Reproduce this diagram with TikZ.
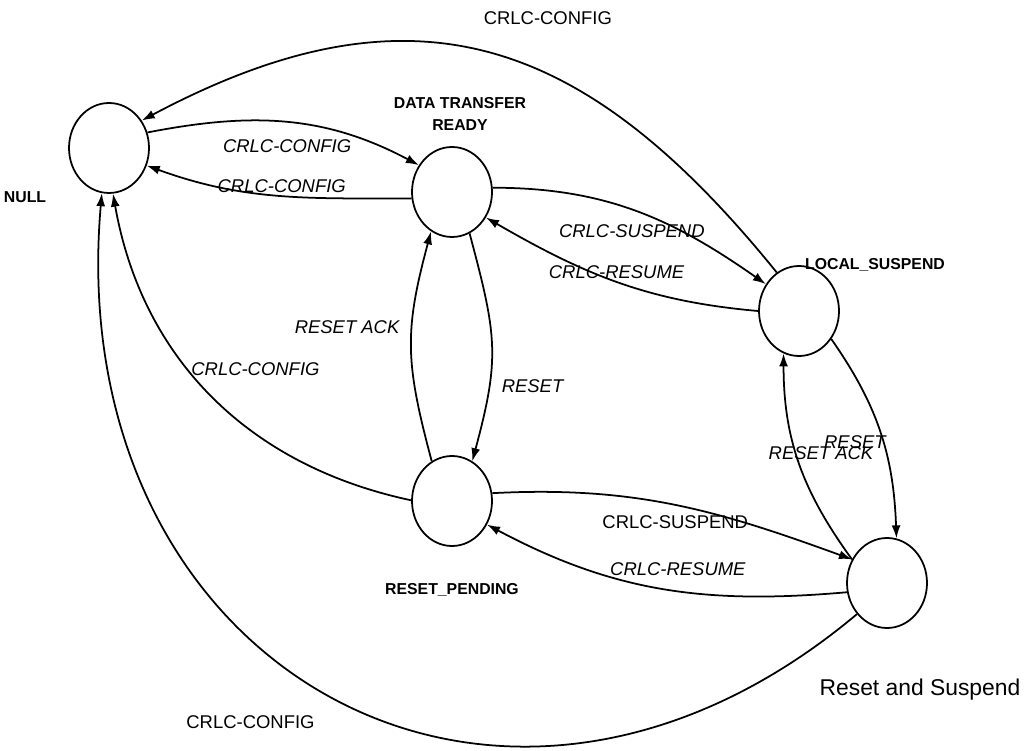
\documentclass[tikz,border=0pt]{standalone}
\usepackage{fontspec}
\setmainfont{Liberation Sans}
\usetikzlibrary{automata, positioning, shapes.geometric, arrows.meta}

\begin{document}
\begin{tikzpicture}[auto, on grid, >={Latex[length=2.6mm, width=1.8mm]},
    every state/.style={draw, ellipse, line width=1pt, minimum width=1.6cm, minimum height=1.8cm, inner sep=0pt},
    statename/.style={font=\bfseries\fontsize{9}{12}\selectfont, align=center},
    trans/.style={font=\itshape\fontsize{10.5}{12}\selectfont, inner sep=1pt},
    transup/.style={font=\fontsize{10.5}{12}\selectfont, inner sep=1pt}]

    \useasboundingbox (0,0) rectangle (20.58,-15.02);

    % estados
    \node [state] (null) at (2.18,-2.96) {};
    \node [state] (dtr) [below right=0.88cm and 6.86cm of null] {};
    \node [state] (ls) [below right=2.38cm and 6.94cm of dtr] {};
    \node [state] (rp) [below=6.18cm of dtr] {};
    \node [state] (ras) [below right=1.64cm and 8.7cm of rp] {};

    % nombres
    \node [statename] (nullname) [below left=0.98cm and 1.68cm of null] {NULL};
    \node [statename] (dtrname) [above right=1.56cm and 0.16cm of dtr] {DATA TRANSFER\\READY};
    \node [statename] (lsname) [above right=0.92cm and 1.52cm of ls] {LOCAL\_SUSPEND};
    \node [statename] (rpname) [below=1.78cm of rp] {RESET\_PENDING};
    \node [font=\fontsize{13}{15}\selectfont] (rasname) [below right=2.14cm and 0.66cm of ras] {Reset and Suspend};

    % transiciones
    \path[->, line width=1pt]
    (null.22) edge [out=11, in=152] node [trans, pos=0.5, below=3mm] {CRLC-CONFIG} (dtr.141)
    (dtr.189) edge [out=180, in=-20] node [trans, pos=0.48, above] {CRLC-CONFIG} (null.-25)
    (ls.120) edge [out=129, in=28, looseness=1.2] node [transup, pos=0.4, above=9.5mm] {CRLC-CONFIG} (null.40)
    (dtr.6) edge [out=0, in=145] node [trans, pos=0.48, below=2.5mm] {CRLC-SUSPEND} (ls.141)
    (ls.180) edge [out=175, in=-30] node [trans, pos=0.5, above] {CRLC-RESUME} (dtr.-37)
    (dtr.-67) edge [out=-75, in=75, looseness=1.2] node [trans, pos=0.7, right=2mm] {RESET} (rp.63)
    (rp.117) edge [out=105, in=-105, looseness=1.15] node [trans, pos=0.6, left=2mm] {RESET ACK} (dtr.-118)
    (rp.179) edge [out=168, in=-80] node [trans, pos=0.58, right] {CRLC-CONFIG} (null.-85)
    (ras.-134) edge [out=-140, in=-95, looseness=1.4] node [transup, pos=0.6, anchor=center, xshift=1mm, yshift=-18mm] {CRLC-CONFIG} (null.-99)
    (rp.11) edge [out=3, in=160] node [transup, pos=0.5, below=1.5mm] {CRLC-SUSPEND} (ras.146)
    (ras.193) edge [out=185, in=-28] node [trans, pos=0.45, above=2.5mm] {CRLC-RESUME} (rp.-34)
    (ls.-41) edge [out=-55, in=92] node [trans, pos=0.55, left=-1mm] {RESET} (ras.78)
    (ras.146) edge [out=126, in=-90] node [trans, pos=0.55, anchor=center, xshift=5mm] {RESET ACK} (ls.-110);
\end{tikzpicture}
\end{document}
